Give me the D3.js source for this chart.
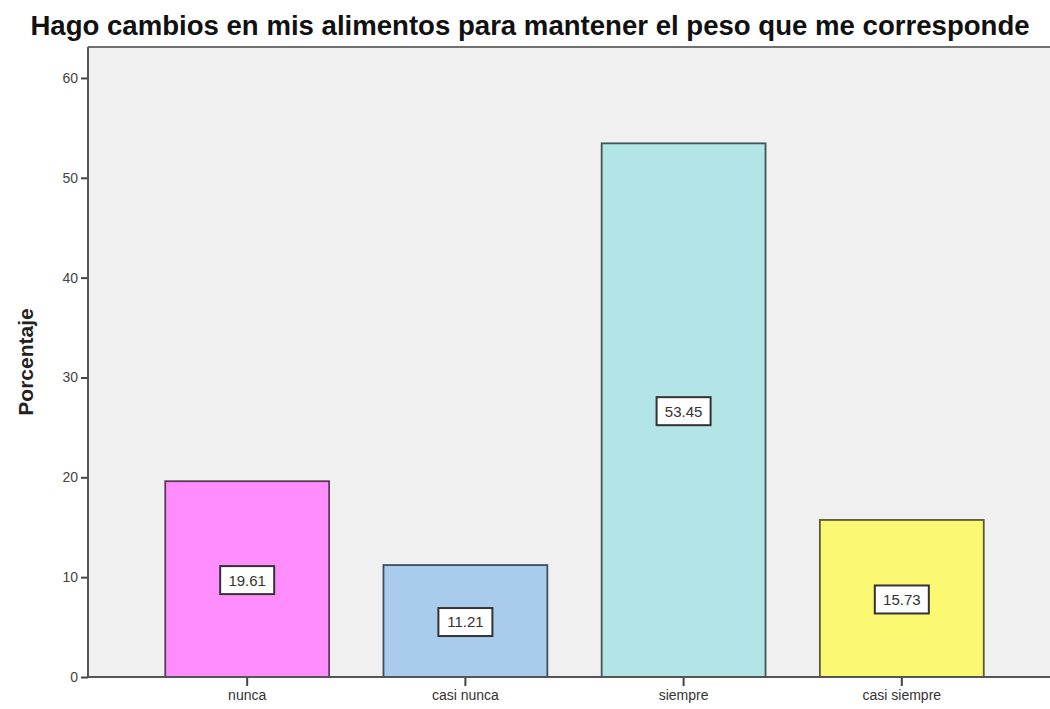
<!DOCTYPE html>
<html>
<head>
<meta charset="utf-8">
<script src="https://cdn.jsdelivr.net/npm/d3@7"></script>
<style>
  html, body { margin: 0; padding: 0; background: #ffffff; overflow: hidden; }
  svg { display: block; font-family: "Liberation Sans", Arial, sans-serif; }
</style>
</head>
<body>
<svg id="chart" width="1050" height="709"></svg>
<script>
// Response categories and their percentages
const categories = ["nunca", "casi nunca", "siempre", "casi siempre"];
const percentages = [19.61, 11.21, 53.45, 15.73];
const yTicks = [0, 10, 20, 30, 40, 50, 60];
const barFills = ["#ff8dfd", "#a9cbec", "#b4e5e6", "#fbf872"];
const barStrokes = ["#5c3a5c", "#3e4e5e", "#3f5556", "#5a5a3a"];

const titleText = "Hago cambios en mis alimentos para mantener el peso que me corresponde";
const yAxisTitle = "Porcentaje";

const svg = d3.select("#chart");

const plot = { left: 88, right: 1061, top: 47, bottom: 677 };

const x = d3.scaleBand()
  .domain(categories)
  .range([plot.left, plot.right])
  .paddingInner(0.249)
  .paddingOuter(0.354);

const y = d3.scaleLinear()
  .domain([0, 63.1])
  .range([plot.bottom, plot.top]);

// plot background
svg.append("rect")
  .attr("x", plot.left)
  .attr("y", plot.top)
  .attr("width", plot.right - plot.left)
  .attr("height", plot.bottom - plot.top)
  .attr("fill", "#f0f0f0");

// top frame line
svg.append("line")
  .attr("x1", plot.left).attr("x2", plot.right)
  .attr("y1", plot.top).attr("y2", plot.top)
  .attr("stroke", "#707070").attr("stroke-width", 2);

// bars
const data = categories.map((c, i) => ({ cat: c, value: percentages[i], fill: barFills[i], stroke: barStrokes[i] }));

svg.append("g").selectAll("rect")
  .data(data)
  .join("rect")
  .attr("x", d => x(d.cat))
  .attr("y", d => y(d.value))
  .attr("width", x.bandwidth())
  .attr("height", d => y(0) - y(d.value))
  .attr("fill", d => d.fill)
  .attr("stroke", d => d.stroke)
  .attr("stroke-width", 1.8);

// value labels in boxes at the middle of each bar
const labels = svg.append("g").selectAll("g")
  .data(data)
  .join("g")
  .attr("transform", d => `translate(${x(d.cat) + x.bandwidth() / 2},${y(d.value / 2) + 1})`);

labels.append("rect")
  .attr("x", -27).attr("y", -14)
  .attr("width", 54).attr("height", 28)
  .attr("fill", "#ffffff")
  .attr("stroke", "#333333")
  .attr("stroke-width", 2);

labels.append("text")
  .attr("text-anchor", "middle")
  .attr("dy", "0.36em")
  .attr("font-size", 15)
  .attr("fill", "#333333")
  .text(d => d.value.toFixed(2));

// y axis
const yAxis = d3.axisLeft(y)
  .tickValues(yTicks)
  .tickSize(7)
  .tickPadding(3)
  .tickFormat(d3.format("d"));

const gy = svg.append("g")
  .attr("transform", `translate(${plot.left},0)`)
  .call(yAxis);
gy.select(".domain").remove();
gy.selectAll(".tick line").attr("stroke", "#444").attr("stroke-width", 2);
gy.selectAll(".tick text")
  .attr("font-size", 14)
  .attr("fill", "#444")
  .attr("font-family", "Liberation Sans, Arial, sans-serif");

svg.append("line")
  .attr("x1", plot.left).attr("x2", plot.left)
  .attr("y1", plot.top).attr("y2", plot.bottom)
  .attr("stroke", "#555").attr("stroke-width", 2);

// x axis
const xAxis = d3.axisBottom(x).tickSize(9).tickPadding(4);
const gx = svg.append("g")
  .attr("transform", `translate(0,${plot.bottom})`)
  .call(xAxis);
gx.select(".domain").remove();
gx.selectAll(".tick line").attr("stroke", "#444").attr("stroke-width", 2);
gx.selectAll(".tick text")
  .attr("font-size", 14)
  .attr("fill", "#333")
  .attr("font-family", "Liberation Sans, Arial, sans-serif");

svg.append("line")
  .attr("x1", plot.left).attr("x2", plot.right)
  .attr("y1", plot.bottom).attr("y2", plot.bottom)
  .attr("stroke", "#555").attr("stroke-width", 2);

// y axis title
svg.append("text")
  .attr("transform", `translate(33,362) rotate(-90)`)
  .attr("text-anchor", "middle")
  .attr("font-size", 21)
  .attr("font-weight", "bold")
  .attr("fill", "#222")
  .text(yAxisTitle);

// chart title
const title = svg.append("text")
  .attr("x", 530)
  .attr("y", 35)
  .attr("text-anchor", "middle")
  .attr("font-size", 22)
  .attr("font-weight", "bold")
  .attr("fill", "#111")
  .text(titleText);
const tw = title.node().getComputedTextLength();
title.attr("font-size", 22 * 1000 / tw);
</script>
</body>
</html>
